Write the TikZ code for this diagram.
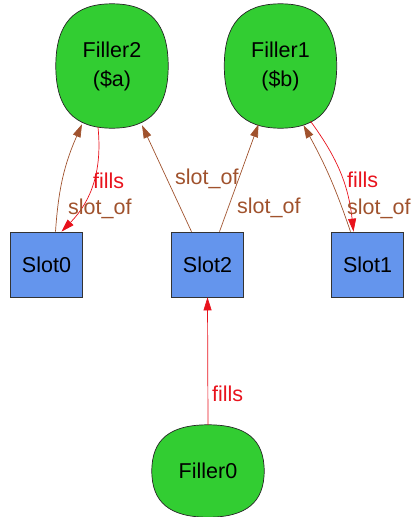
\documentclass[tikz,border=0pt]{standalone}
\usepackage{fontspec}
\setmainfont{Liberation Sans}
\usetikzlibrary{arrows.meta,calc,backgrounds}
\definecolor{blobgreen}{RGB}{50,205,50}
\definecolor{slotblue}{RGB}{100,149,237}
\definecolor{edgebrown}{RGB}{160,82,45}
\definecolor{edgered}{RGB}{232,18,28}
\begin{document}
\begin{tikzpicture}[x=1pt,y=-1pt,
  lbl/.style={font=\fontsize{21.5}{26}\selectfont, inner sep=0pt, anchor=base west},
  blob/.style={font=\fontsize{21.5}{29}\selectfont, align=center, inner sep=0pt, minimum width=112pt},
  slotbox/.style={draw=black!80, fill=slotblue, line width=0.7pt, minimum width=72pt, minimum height=65pt, inner sep=0pt, font=\fontsize{21.5}{26}\selectfont},
  slotof/.style={draw=edgebrown, line width=0.7pt, -{Triangle[length=13pt,width=8pt,fill=edgebrown]}},
  fillsedge/.style={draw=edgered, line width=0.7pt, -{Triangle[length=13pt,width=8pt,fill=edgered]}}]
\useasboundingbox (0,0) rectangle (411,517);
% filler nodes
\node[blob, minimum height=124pt] (F2) at (112,66) {Filler2\\(\$a)};
\node[blob, minimum height=124pt] (F1) at (280.5,66) {Filler1\\(\$b)};
\node[blob, minimum height=92pt] (F0) at (208,471) {Filler0};
% slot nodes
\node[slotbox] (S0) at (46.5,264.5) {Slot0};
\node[slotbox] (S2) at (207.5,264.5) {Slot2};
\node[slotbox] (S1) at (367.5,264.5) {Slot1};
% blob outlines
\begin{scope}[on background layer]
\foreach \n in {F2,F1,F0}{
  \filldraw[draw=black!85, fill=blobgreen, line width=0.7pt]
  (\n.east) .. controls ($(\n.east)!0.68!(\n.north east)$) and ($(\n.north)!0.68!(\n.north east)$) .. (\n.north)
  .. controls ($(\n.north)!0.68!(\n.north west)$) and ($(\n.west)!0.68!(\n.north west)$) .. (\n.west)
  .. controls ($(\n.west)!0.68!(\n.south west)$) and ($(\n.south)!0.68!(\n.south west)$) .. (\n.south)
  .. controls ($(\n.south)!0.68!(\n.south east)$) and ($(\n.east)!0.68!(\n.south east)$) .. (\n.east) -- cycle;
}
\end{scope}
% edges
\draw[slotof] ([xshift=9]S0.north) to[bend left=10] ([shift={(-30,-4)}]F2.south);
\draw[fillsedge] ([shift={(-14,-1)}]F2.south) to[bend left=25] ([xshift=15]S0.north);
\draw[slotof] ([xshift=-16]S2.north) -- ([shift={(30,-3)}]F2.south);
\draw[slotof] ([xshift=12]S2.north) -- ([shift={(-22,-4)}]F1.south);
\draw[slotof] ([xshift=-17]S1.north) to[bend right=5] ([shift={(23,-3)}]F1.south);
\draw[fillsedge] ([shift={(30,-7)}]F1.south) to[bend left=15] ([xshift=-14]S1.north);
\draw[fillsedge] (F0.north) -- (S2.south);
% labels
\node[lbl, text=edgered] (L1) at (93,188) {fills};
\node[lbl, text=edgebrown] (L2) at (68,214) {slot\_of};
\node[lbl, text=edgebrown] (L3) at (175,184) {slot\_of};
\node[lbl, text=edgebrown] (L4) at (237,213) {slot\_of};
\node[lbl, text=edgered] (L5) at (347,187) {fills};
\node[lbl, text=edgebrown] (L6) at (347,214) {slot\_of};
\node[lbl, text=edgered] (L7) at (212,401) {fills};
\end{tikzpicture}
\end{document}
